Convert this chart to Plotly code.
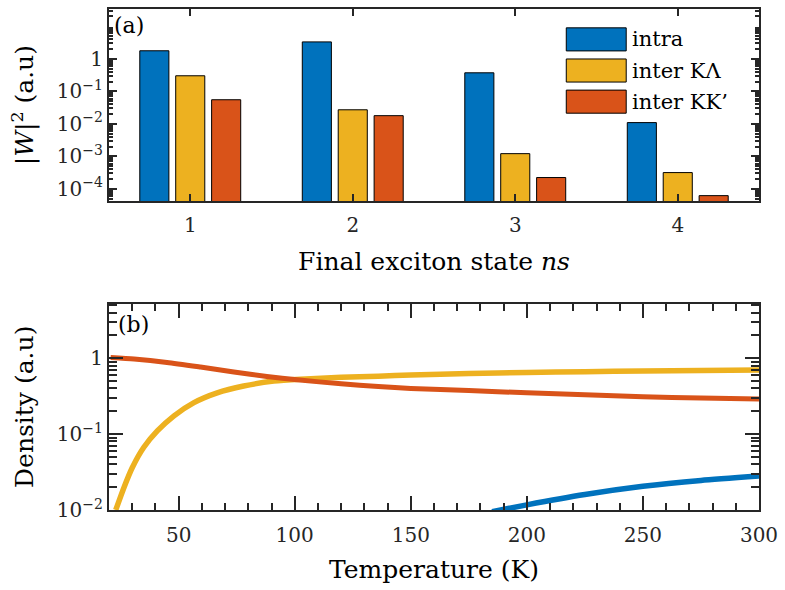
import plotly.graph_objects as go

# panel (a): transition matrix elements per final exciton state
states = ["1", "2", "3", "4"]
series_names = ["intra", "inter KΛ", "inter KK’"]
intra = [1.76, 3.3, 0.37, 0.0109]
inter_kl = [0.30, 0.027, 0.00121, 0.000317]
inter_kk = [0.055, 0.0178, 0.000223, 0.000062]

# panel (b): densities vs temperature
temp_kk = [20.7, 30.8, 45, 59.4, 73.8, 88, 101, 120, 136, 150, 175, 200, 225, 250, 275, 300]
dens_kk = [1.02, 0.975, 0.88, 0.765, 0.66, 0.575, 0.52, 0.46, 0.425, 0.40, 0.375, 0.35, 0.33, 0.31, 0.30, 0.29]
temp_kl = [22.9, 26.5, 30, 35, 40.8, 48, 56.6, 66.6, 78, 91, 102.5, 120, 136, 150, 175, 200, 225, 250, 275, 300]
dens_kl = [0.01, 0.02, 0.036, 0.067, 0.11, 0.174, 0.26, 0.35, 0.43, 0.50, 0.53, 0.56, 0.58, 0.60, 0.63, 0.65, 0.665, 0.68, 0.69, 0.70]
temp_intra = [185, 200, 225, 250, 275, 300]
dens_intra = [0.0095, 0.0117, 0.016, 0.0205, 0.0245, 0.028]

a_ticks = [1e-4, 1e-3, 1e-2, 1e-1, 1]
a_ticktext = ["10<sup>−4</sup>", "10<sup>−3</sup>", "10<sup>−2</sup>", "10<sup>−1</sup>", "1"]
b_ticks = [1e-2, 1e-1, 1]
b_ticktext = ["10<sup>−2</sup>", "10<sup>−1</sup>", "1"]
t_ticks = [50, 100, 150, 200, 250, 300]

colors = ["#0072BD", "#EDB120", "#D95319"]
axcol = "#262626"
FONT = "DejaVu Serif"

# minor log ticks (2..9 in each decade)
minor_log = [m * 10.0 ** e for e in range(-5, 2) for m in range(2, 10)]

fig = go.Figure()

for name, vals, c in zip(series_names, [intra, inter_kl, inter_kk], colors):
    fig.add_trace(go.Bar(x=states, y=vals, name=name, marker_color=c,
                         marker_line=dict(color="black", width=1),
                         xaxis="x", yaxis="y", showlegend=False))

for t, d, c, w in [(temp_intra, dens_intra, colors[0], 5.5),
                   (temp_kl, dens_kl, colors[1], 5.5),
                   (temp_kk, dens_kk, colors[2], 5)]:
    fig.add_trace(go.Scatter(x=t, y=d, mode="lines", line=dict(color=c, width=w, shape="spline", smoothing=0.6),
                             xaxis="x2", yaxis="y2", showlegend=False))

axis_common = dict(showline=True, linecolor=axcol, linewidth=2.2, mirror="ticks",
                   ticks="inside", tickcolor=axcol, tickwidth=2, showgrid=False, zeroline=False,
                   tickfont=dict(family=FONT, size=20, color=axcol))

fig.update_layout(
    width=785, height=590,
    margin=dict(l=109, r=25, t=7, b=80),
    plot_bgcolor="white", paper_bgcolor="white",
    barmode="group", bargap=0.337, bargroupgap=0.19,
    font=dict(family=FONT, size=20, color="black"),
    xaxis=dict(axis_common, domain=[0, 1], anchor="y", type="category", range=[-0.5, 3.5],
               ticklen=7, ticklabelstandoff=5,
               title=dict(text="Final exciton state <i>ns</i>", font=dict(size=25), standoff=16)),
    yaxis=dict(axis_common, domain=[0.6163, 1], anchor="x", type="log", range=[-4.38, 1.53],
               tickvals=a_ticks, ticktext=a_ticktext, ticklen=8,
               minor=dict(tickvals=minor_log, ticks="inside", ticklen=4, tickcolor=axcol, tickwidth=1.5),
               title=dict(text="|<i>W</i>|<sup>2</sup> (a.u)", font=dict(size=25), standoff=16)),
    xaxis2=dict(axis_common, domain=[0, 1], anchor="y2", range=[20, 300],
                tickvals=t_ticks, ticklen=14, ticklabelstandoff=6,
                minor=dict(dtick=10, tick0=20, ticks="inside", ticklen=7, tickcolor=axcol, tickwidth=2),
                title=dict(text="Temperature (K)", font=dict(size=25), standoff=14)),
    yaxis2=dict(axis_common, domain=[0, 0.412], anchor="x2", type="log", range=[-2, 0.72],
                tickvals=b_ticks, ticktext=b_ticktext, ticklen=14,
                minor=dict(tickvals=minor_log, ticks="inside", ticklen=8, tickcolor=axcol, tickwidth=2),
                title=dict(text="Density (a.u)", font=dict(size=25), standoff=16)),
)

# panel labels
fig.add_annotation(text="(a)", xref="x domain", yref="y domain", x=0.005, y=0.99,
                   xanchor="left", yanchor="top", showarrow=False, font=dict(size=22))
fig.add_annotation(text="(b)", xref="x2 domain", yref="y2 domain", x=0.01, y=0.97,
                   xanchor="left", yanchor="top", showarrow=False, font=dict(size=22))

# legend drawn by hand to get large swatches
for i, (name, c) in enumerate(zip(series_names, colors)):
    top = 0.902 - i * 0.162
    fig.add_shape(type="rect", xref="x domain", yref="y domain",
                  x0=0.7035, x1=0.7957, y0=top - 0.12, y1=top,
                  fillcolor=c, line=dict(color="black", width=1))
    fig.add_annotation(text=name, xref="x domain", yref="y domain", x=0.802, y=top - 0.06,
                       xanchor="left", yanchor="middle", showarrow=False, font=dict(size=21))

fig.write_html("out.html", config={"displayModeBar": False},
               post_script="document.body.style.margin='0';")
